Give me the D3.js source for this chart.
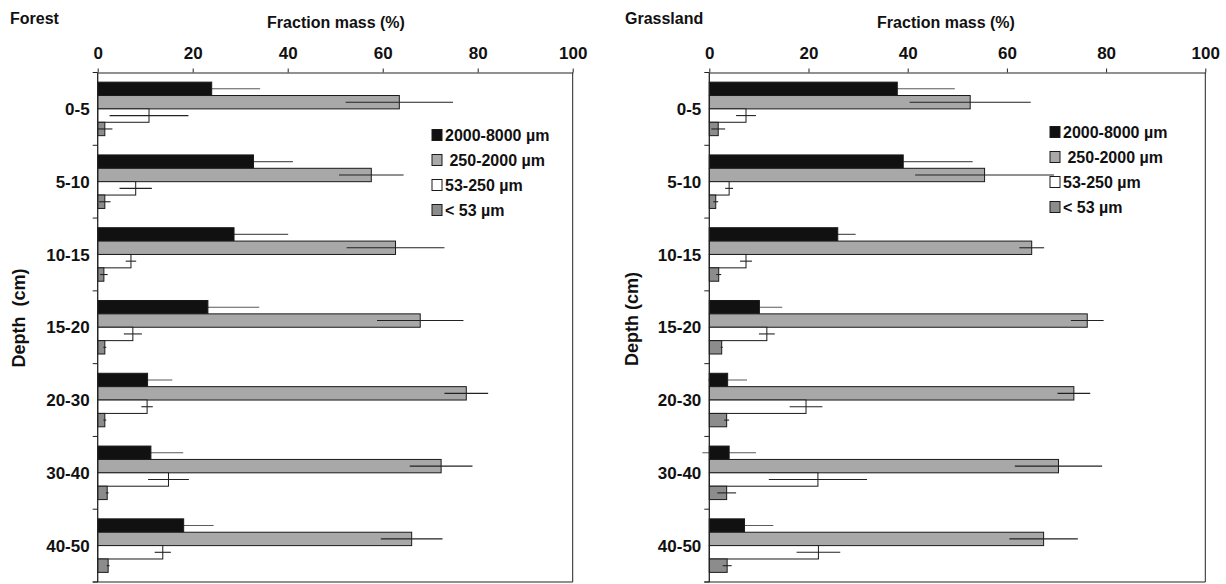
<!DOCTYPE html>
<html>
<head>
<meta charset="utf-8">
<script src="https://cdn.jsdelivr.net/npm/d3@7"></script>
<style>
  html, body { margin: 0; padding: 0; background: #fff; }
  svg { display: block; font-family: "Liberation Sans", Arial, Helvetica, sans-serif; font-weight: bold; }
  text { fill: #111; }
</style>
</head>
<body>
<svg id="chart" width="1226" height="584"></svg>
<script>
// ---------------- DATA ----------------
const categories = ["0-5", "5-10", "10-15", "15-20", "20-30", "30-40", "40-50"];
const seriesNames = ["2000-8000 µm", " 250-2000 µm", "53-250 µm", "< 53 µm"];
const xTicks = [0, 20, 40, 60, 80, 100];

// Forest
const forestMacro    = [24.0, 32.8, 28.7, 23.2, 10.5, 11.2, 18.1];
const forestMacroErr = [10.2, 8.3, 11.4, 10.8, 5.2, 6.8, 6.3];
const forestSmall    = [63.5, 57.6, 62.7, 67.9, 77.6, 72.3, 66.1];
const forestSmallErr = [11.3, 6.8, 10.3, 9.1, 4.6, 6.6, 6.5];
const forestMicro    = [10.8, 8.0, 7.0, 7.4, 10.4, 14.9, 13.7];
const forestMicroErr = [8.3, 3.4, 1.1, 1.9, 1.2, 4.3, 1.7];
const forestSilt     = [1.5, 1.5, 1.3, 1.5, 1.5, 2.0, 2.2];
const forestSiltErr  = [1.6, 1.2, 0.8, 0.3, 0.3, 0.3, 0.3];

// Grassland
const grassMacro    = [37.9, 39.1, 25.9, 10.1, 3.7, 4.0, 7.1];
const grassMacroErr = [11.6, 14.0, 3.6, 4.6, 3.9, 5.4, 5.8];
const grassSmall    = [52.6, 55.5, 65.0, 76.2, 73.5, 70.4, 67.4];
const grassSmallErr = [12.2, 14.0, 2.5, 3.3, 3.3, 8.8, 6.9];
const grassMicro    = [7.4, 4.0, 7.4, 11.6, 19.5, 21.9, 22.0];
const grassMicroErr = [2.0, 0.8, 1.2, 1.6, 3.3, 9.9, 4.4];
const grassSilt     = [1.8, 1.3, 1.9, 2.5, 3.5, 3.5, 3.6];
const grassSiltErr  = [1.4, 0.5, 0.5, 0.2, 0.5, 1.9, 0.9];

// ---------------- STYLE ----------------
const fills = ["#111111", "#a8a8a8", "#ffffff", "#8c8c8c"];
const errColors = ["#5a5a5a", "#222222", "#222222", "#222222"];

const panels = [
  {
    title: "Forest", titleX: 10,
    x0: 97.7, x1: 572.7, axisTitleX: 336, depthX: 25, depthY: 318, depthLabel: "Depth  (cm)",
    legendX: 432, legendY: [135, 160, 185, 210],
    values: [forestMacro, forestSmall, forestMicro, forestSilt],
    errors: [forestMacroErr, forestSmallErr, forestMicroErr, forestSiltErr]
  },
  {
    title: "Grassland", titleX: 625,
    x0: 709.3, x1: 1205.3, axisTitleX: 946, depthX: 638, depthY: 319, depthLabel: "Depth (cm)",
    legendX: 1050, legendY: [132, 157, 182, 207],
    values: [grassMacro, grassSmall, grassMicro, grassSilt],
    errors: [grassMacroErr, grassSmallErr, grassMicroErr, grassSiltErr]
  }
];

const plotTop = 72.5, plotBottom = 582;
const svg = d3.select("#chart");

panels.forEach(p => {
  const g = svg.append("g");
  const x = d3.scaleLinear().domain([0, 100]).range([p.x0, p.x1]);
  const y = d3.scaleBand().domain(categories).range([plotTop, plotBottom]).padding(0);
  const inner = d3.scaleBand().domain(d3.range(seriesNames.length))
    .range([0, y.bandwidth()]).paddingOuter(0.72).paddingInner(0);

  const errLayer = s => {
    const vals = p.values[s];
    g.append("g").selectAll("line").data(vals).join("line")
      .attr("x1", (d, i) => x(d - p.errors[s][i]))
      .attr("x2", (d, i) => x(d + p.errors[s][i]))
      .attr("y1", (d, i) => y(categories[i]) + inner(s) + inner.bandwidth() / 2)
      .attr("y2", (d, i) => y(categories[i]) + inner(s) + inner.bandwidth() / 2)
      .attr("stroke", errColors[s])
      .attr("stroke-width", 1.1);
  };

  // error bars of the dark series sit behind its bars
  errLayer(0);

  // bars
  p.values.forEach((vals, s) => {
    g.append("g").selectAll("rect").data(vals).join("rect")
      .attr("x", x(0))
      .attr("y", (d, i) => y(categories[i]) + inner(s))
      .attr("width", d => x(d) - x(0))
      .attr("height", inner.bandwidth())
      .attr("fill", fills[s])
      .attr("stroke", "#1a1a1a")
      .attr("stroke-width", 1);
  });
  // other error bars on top
  [1, 2, 3].forEach(errLayer);

  // top axis
  const ax = g.append("g").attr("transform", `translate(0,${plotTop})`)
    .call(d3.axisTop(x).tickValues(xTicks).tickSize(4).tickSizeOuter(0).tickPadding(10));
  ax.select(".domain").attr("stroke", "#222");
  ax.selectAll(".tick line").attr("stroke", "#222");
  ax.selectAll(".tick text").attr("font-size", 17).attr("font-family", null).attr("fill", "#111");

  // frame: left axis, right border, bottom
  g.append("line").attr("x1", x(0)).attr("x2", x(0)).attr("y1", plotTop).attr("y2", plotBottom)
    .attr("stroke", "#222").attr("stroke-width", 1.3);
  g.append("line").attr("x1", x(100)).attr("x2", x(100)).attr("y1", plotTop).attr("y2", plotBottom)
    .attr("stroke", "#222").attr("stroke-width", 1);
  g.append("line").attr("x1", x(0) - 5).attr("x2", x(100)).attr("y1", plotBottom).attr("y2", plotBottom)
    .attr("stroke", "#222").attr("stroke-width", 1);
  // band boundary ticks
  const bounds = categories.map(c => y(c)).concat([plotBottom]);
  g.append("g").selectAll("line").data(bounds).join("line")
    .attr("x1", x(0) - 5).attr("x2", x(0))
    .attr("y1", d => d).attr("y2", d => d)
    .attr("stroke", "#222");

  // category labels
  const ay = g.append("g").attr("transform", `translate(${x(0)},0)`)
    .call(d3.axisLeft(y).tickSize(0).tickPadding(8));
  ay.select(".domain").remove();
  ay.selectAll(".tick text").attr("font-size", 17).attr("font-family", null).attr("fill", "#111")
    .attr("dy", "0.36em");

  // titles
  g.append("text").attr("x", p.titleX).attr("y", 24).attr("font-size", 16).text(p.title);
  g.append("text").attr("x", p.axisTitleX).attr("y", 28).attr("font-size", 16)
    .attr("text-anchor", "middle").text("Fraction mass (%)");
  g.append("text")
    .attr("transform", `translate(${p.depthX},${p.depthY}) rotate(-90)`)
    .attr("text-anchor", "middle").attr("font-size", 18)
    .style("white-space", "pre").text(p.depthLabel);

  // legend
  const lg = g.append("g");
  seriesNames.forEach((name, s) => {
    const ly = p.legendY[s];
    lg.append("rect").attr("x", p.legendX).attr("y", ly - 5.5).attr("width", 10).attr("height", 11)
      .attr("fill", fills[s]).attr("stroke", "#1a1a1a").attr("stroke-width", 1);
    lg.append("text").attr("x", p.legendX + 13).attr("y", ly + 6)
      .attr("font-size", 16).style("white-space", "pre").text(name);
  });
});
</script>
</body>
</html>
